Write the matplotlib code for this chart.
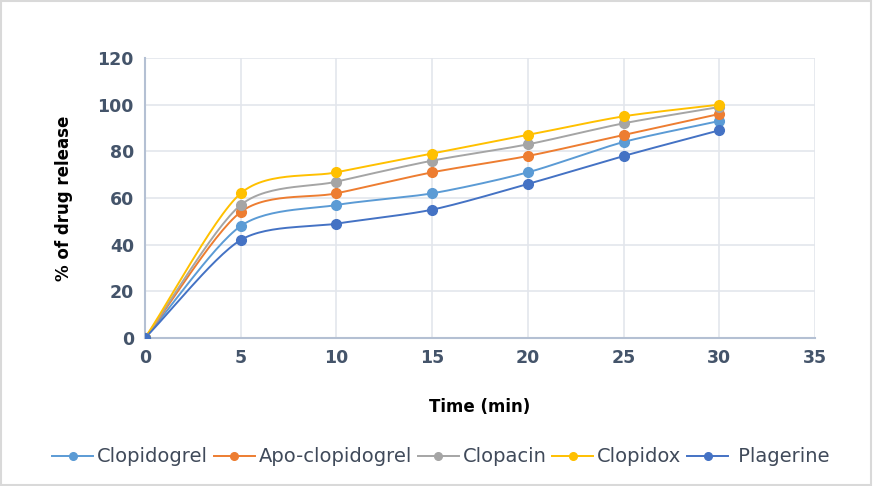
import numpy as np
import matplotlib.pyplot as plt
from matplotlib.patches import Rectangle

time_min = [0, 5, 10, 15, 20, 25, 30]
clopidogrel = [0, 48, 57, 62, 71, 84, 93]
apo_clopidogrel = [0, 54, 62, 71, 78, 87, 96]
clopacin = [0, 57, 67, 76, 83, 92, 99]
clopidox = [0, 62, 71, 79, 87, 95, 100]
plagerine = [0, 42, 49, 55, 66, 78, 89]

series = [
    ("Clopidogrel", clopidogrel, "#5B9BD5"),
    ("Apo-clopidogrel", apo_clopidogrel, "#ED7D31"),
    ("Clopacin", clopacin, "#A5A5A5"),
    ("Clopidox", clopidox, "#FFC000"),
    (" Plagerine", plagerine, "#4472C4"),
]


def smooth(x, y, n=30):
    # Catmull-Rom style curve through the points, like a smoothed Excel line
    x = np.asarray(x, float)
    y = np.asarray(y, float)
    px = np.concatenate([[2 * x[0] - x[1]], x, [2 * x[-1] - x[-2]]])
    py = np.concatenate([[2 * y[0] - y[1]], y, [2 * y[-1] - y[-2]]])
    xs, ys = [], []
    t = np.linspace(0, 1, n)
    for i in range(1, len(px) - 2):
        for p, out in ((px, xs), (py, ys)):
            p0, p1, p2, p3 = p[i - 1], p[i], p[i + 1], p[i + 2]
            m1 = (p2 - p0) / 2 * 0.8
            m2 = (p3 - p1) / 2 * 0.8
            h00 = 2 * t**3 - 3 * t**2 + 1
            h10 = t**3 - 2 * t**2 + t
            h01 = -2 * t**3 + 3 * t**2
            h11 = t**3 - t**2
            out.extend(h00 * p1 + h10 * m1 + h01 * p2 + h11 * m2)
    return np.array(xs), np.array(ys)


fig = plt.figure(figsize=(8.73, 4.86), dpi=100)
ax = fig.add_axes([0.1661, 0.3045, 0.7675, 0.5762])
fig.patches.append(Rectangle((0.001, 0.002), 0.997, 0.996, transform=fig.transFigure,
                             fill=False, edgecolor="#D9D9D9", linewidth=1.5))

for name, vals, col in series:
    sx, sy = smooth(time_min, vals)
    ax.plot(sx, sy, color=col, linewidth=1.4, zorder=3)
    ax.plot(time_min, vals, "o", color=col, markersize=7, zorder=4)
    ax.plot([], [], "-o", color=col, linewidth=1.4, markersize=5.5, label=name)

ax.set_xlim(0, 35)
ax.set_ylim(0, 120)
ax.set_xticks(range(0, 36, 5))
ax.set_yticks(range(0, 121, 20))
ax.grid(True, color="#E3E6EC", linewidth=1.2)
ax.set_axisbelow(True)
for s in ["top", "right"]:
    ax.spines[s].set_visible(False)
for s in ["left", "bottom"]:
    ax.spines[s].set_color("#B4C0D3")
    ax.spines[s].set_linewidth(1.5)
ax.tick_params(length=0, pad=8, labelsize=12.5, colors="#44546A")
for lab in ax.get_xticklabels() + ax.get_yticklabels():
    lab.set_fontweight("bold")

ax.set_xlabel("Time (min)", fontsize=12, fontweight="bold", labelpad=22)
ax.set_ylabel("% of drug release", fontsize=12, fontweight="bold", labelpad=18)

fig.legend(loc="center", bbox_to_anchor=(0.505, 0.06), ncol=5, frameon=False,
           fontsize=14, handlelength=2.1, handletextpad=0.2, columnspacing=0.3,
           labelcolor="#404A5A")

fig.savefig("out.png", dpi=100)
